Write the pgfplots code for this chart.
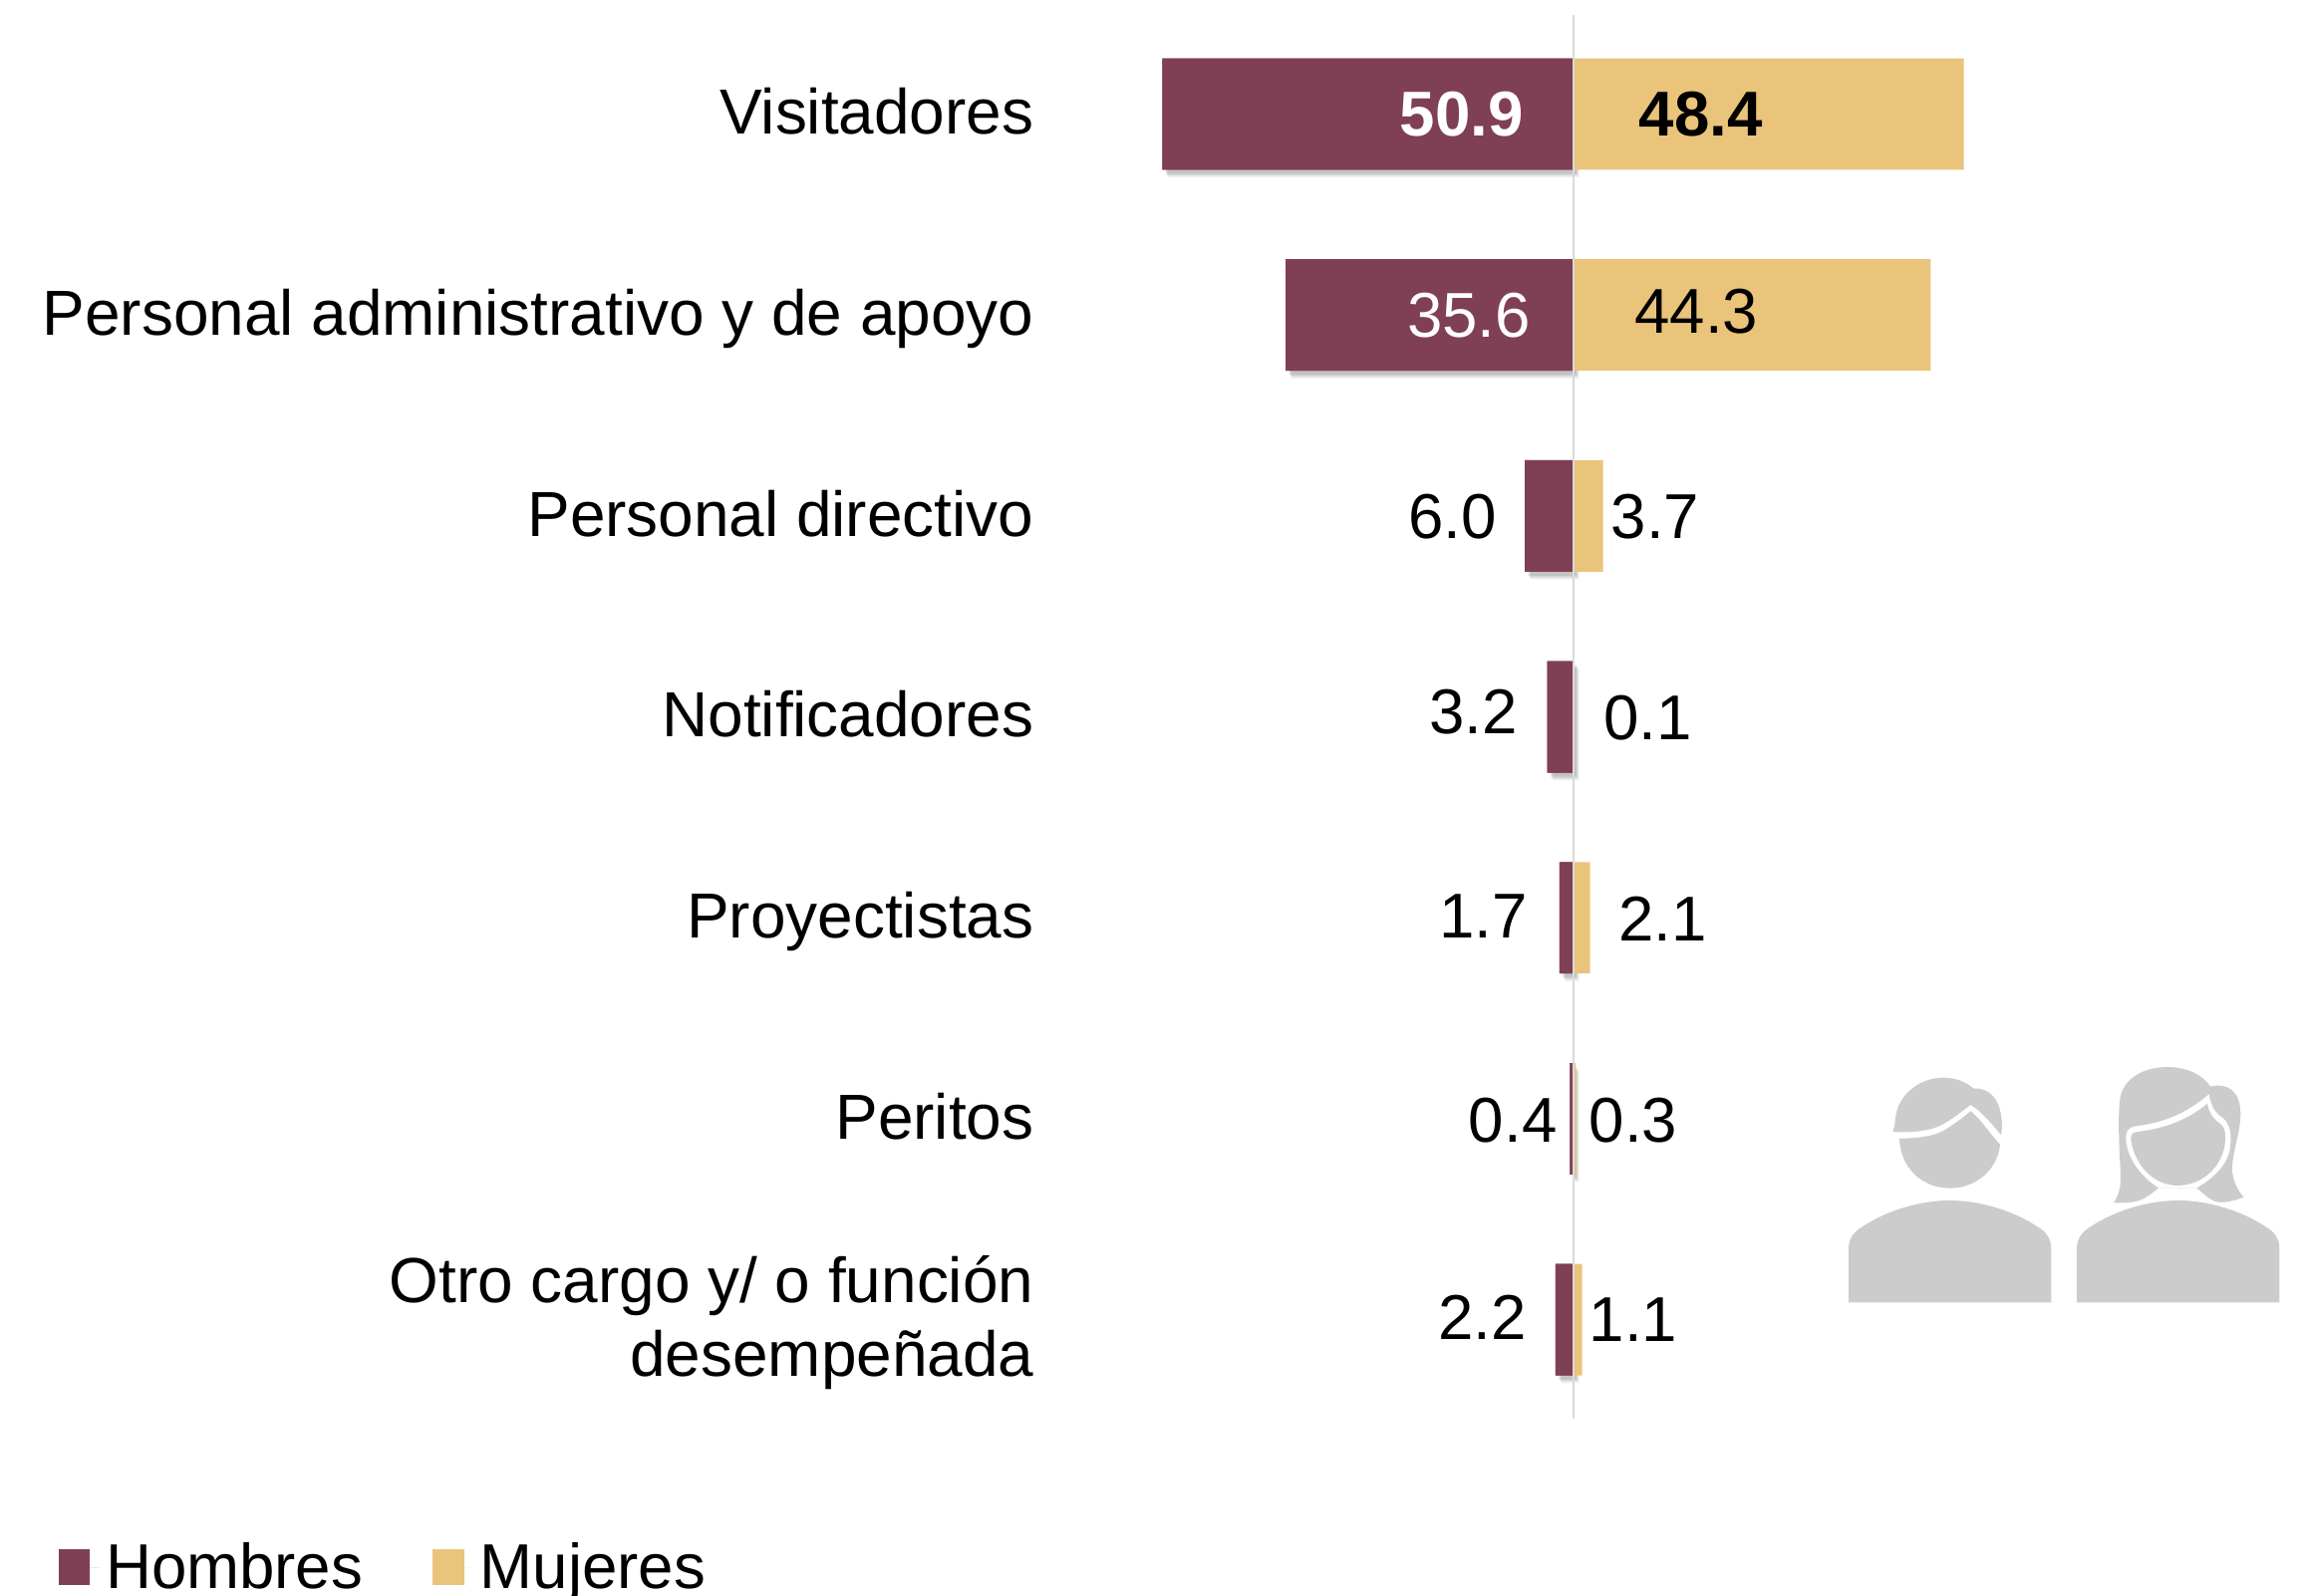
\documentclass[border=0pt]{standalone}
\usepackage{fontspec}
\setmainfont{Liberation Sans}
\usepackage{pgfplots}
\pgfplotsset{compat=1.18}
\usetikzlibrary{shadows}
\definecolor{hom}{HTML}{7F3F55}
\definecolor{muj}{HTML}{EAC47A}
\definecolor{ico}{HTML}{CCCCCC}
\definecolor{cero}{HTML}{DADADA}
\newcommand{\fs}{\fontsize{21.2}{24.6}\selectfont}
\newcommand{\body}[1]{\fill[ico,xshift=#1] (165,802) -- (165,640) .. controls (165,610) and (180,590) .. (205,575) .. controls (280,525) and (380,495) .. (470,495) .. controls (560,495) and (660,525) .. (735,575) .. controls (760,590) and (775,610) .. (775,640) -- (775,802) -- cycle;}
\begin{document}
\begin{tikzpicture}
\useasboundingbox (0,0) rectangle (770.33pt,534pt);
\begin{axis}[
    at={(346.67pt,0pt)}, anchor=south west,
    scale only axis, width=423.67pt, height=534pt,
    xmin=-66.49, xmax=90.42,
    ymin=-0.5677, ymax=7.375,
    y dir=reverse,
    clip=false,
    axis line style={draw=none},
    tick style={draw=none},
    major tick length=0pt,
    xtick=\empty,
    ytick={0,1,2,3,4,5,6},
    yticklabels={Visitadores\strut,Personal administrativo y de apoyo\strut,Personal directivo\strut,Notificadores\strut,Proyectistas\strut,Peritos\strut,{Otro cargo y/ o función\strut\\desempeñada\strut}},
    yticklabel style={font=\fontsize{21.3}{24.6}\selectfont, align=right, anchor=east, inner sep=0pt, xshift=-0.7pt, yshift=-1.8pt},
    xbar, bar shift=0pt, /pgf/bar width=37.3pt,
    legend columns=2,
    legend style={at={(-0.772,0.0)}, anchor=south west, draw=none, fill=none, font=\fs,
        inner sep=0pt, outer sep=0pt, yshift=-0.9pt,
        /tikz/every even column/.append style={column sep=21.4pt}},
]
% sombra de las barras de hombres, sin entrada en la leyenda
\addplot[forget plot, fill=hom, draw=none,
    drop shadow={shadow xshift=2.0pt, shadow yshift=-2.6pt, opacity=0.12},
    drop shadow={shadow xshift=1.6pt, shadow yshift=-2.0pt, opacity=0.2},
    drop shadow={shadow xshift=1.2pt, shadow yshift=-1.4pt, opacity=0.25}]
    coordinates {(-50.9,0)(-35.6,1)(-6.0,2)(-3.2,3)(-1.7,4)(-0.4,5)(-2.2,6)};
\addplot[fill=hom, draw=none,
    legend image code/.code={\fill[hom] (0pt,-6pt) rectangle (10.4pt,6pt); \path (0pt,0pt) -- (13.8pt,0pt);}]
    coordinates {(-50.9,0)(-35.6,1)(-6.0,2)(-3.2,3)(-1.7,4)(-0.4,5)(-2.2,6)};
\addlegendentry{Hombres}
\addplot[fill=muj, draw=none,
    legend image code/.code={\fill[muj] (0pt,-6pt) rectangle (10.4pt,6pt); \path (0pt,0pt) -- (13.8pt,0pt);}]
    coordinates {(48.4,0)(44.3,1)(3.7,2)(0.1,3)(2.1,4)(0.3,5)(1.1,6)};
\addlegendentry{Mujeres}
\draw[cero, line width=0.7pt] (axis cs:0,-0.493) -- (axis cs:0,6.49);
% etiquetas de valor, colocadas a mano como en el original
\node[font=\fs\bfseries, text=white] at (axis cs:-13.83,0) {50.9};
\node[font=\fs, text=white] at (axis cs:-12.92,1.003) {35.6};
\node[font=\fs] at (axis cs:-14.92,2.004) {6.0};
\node[font=\fs] at (axis cs:-12.37,2.976) {3.2};
\node[font=\fs] at (axis cs:-11.10,3.99) {1.7};
\node[font=\fs] at (axis cs:-7.46,5.007) {0.4};
\node[font=\fs] at (axis cs:-11.28,5.99) {2.2};
\node[font=\fs\bfseries] at (axis cs:15.83,0) {48.4};
\node[font=\fs] at (axis cs:15.28,0.98) {44.3};
\node[font=\fs] at (axis cs:10.19,2.004) {3.7};
\node[font=\fs] at (axis cs:9.28,3.005) {0.1};
\node[font=\fs] at (axis cs:11.10,4.005) {2.1};
\node[font=\fs] at (axis cs:7.46,5.007) {0.3};
\node[font=\fs] at (axis cs:7.46,6.0) {1.1};
\end{axis}
% iconos
\begin{scope}[shift={(600pt,187.33pt)}, x=0.1111pt, y=-0.1111pt]
\body{0pt}
\fill[ico] (318,308) .. controls (370,308) and (420,302) .. (450,285) .. controls (480,268) and (510,245) .. (532,226) .. controls (560,245) and (590,295) .. (621,326) .. controls (615,400) and (550,458) .. (470,458) .. controls (385,458) and (320,395) .. (318,308) -- cycle;
\fill[ico] (298,288) .. controls (305,270) and (305,250) .. (308,235) .. controls (320,170) and (385,125) .. (450,125) .. controls (490,125) and (520,140) .. (542,158) .. controls (580,155) and (610,180) .. (620,220) .. controls (628,250) and (628,275) .. (624,298) .. controls (600,270) and (565,225) .. (532,207) .. controls (500,232) and (470,255) .. (440,270) .. controls (400,288) and (340,292) .. (298,288) -- cycle;
\body{76.33pt}
\fill[ico] (963,502) .. controls (985,470) and (985,440) .. (983,400) .. controls (980,340) and (975,250) .. (982,190) .. controls (990,130) and (1050,93) .. (1125,93) .. controls (1180,93) and (1230,115) .. (1255,152) .. controls (1300,140) and (1345,160) .. (1345,235) .. controls (1345,290) and (1320,350) .. (1320,400) .. controls (1320,430) and (1335,465) .. (1355,485) .. controls (1330,495) and (1300,502) .. (1280,500) .. controls (1255,498) and (1235,475) .. (1213,457) -- (1098,457) .. controls (1060,490) and (1040,505) .. (963,502) -- cycle;
\fill[white] (1098,457) .. controls (1040,420) and (1000,360) .. (1000,305) .. controls (1000,285) and (1010,275) .. (1025,272) .. controls (1110,262) and (1180,235) .. (1250,175) .. controls (1255,205) and (1265,230) .. (1290,245) .. controls (1315,265) and (1320,300) .. (1312,345) .. controls (1300,395) and (1260,430) .. (1213,457) -- cycle;
\fill[ico] (1015,310) .. controls (1015,295) and (1020,290) .. (1035,288) .. controls (1120,278) and (1190,250) .. (1245,203) .. controls (1250,230) and (1262,250) .. (1282,262) .. controls (1300,275) and (1302,300) .. (1297,330) .. controls (1285,400) and (1225,450) .. (1155,450) .. controls (1085,450) and (1025,390) .. (1015,310) -- cycle;
\end{scope}
\end{tikzpicture}
\end{document}
